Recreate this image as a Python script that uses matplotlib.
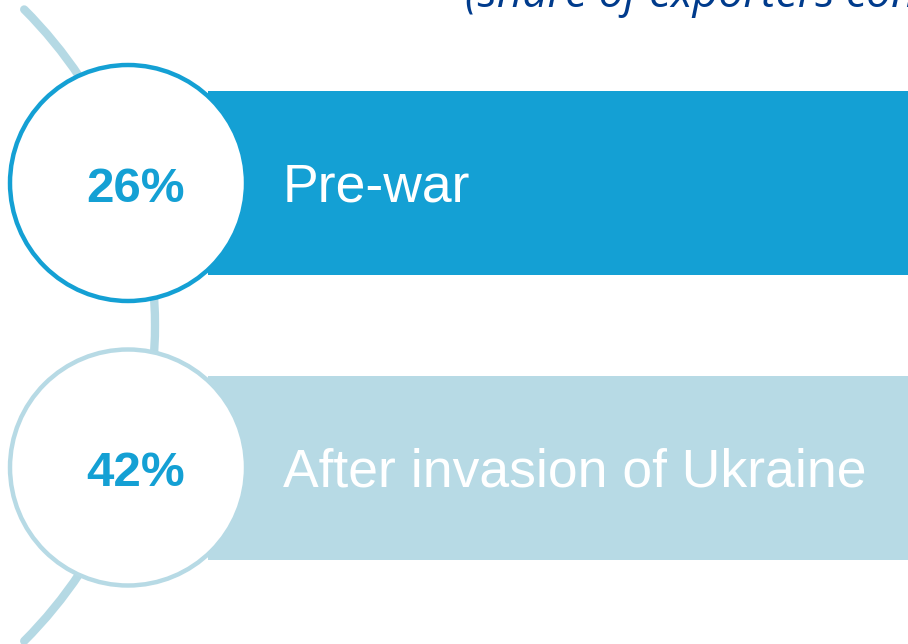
import matplotlib.pyplot as plt
import matplotlib.patches as mpatches
import numpy as np

# data
periods = ["Pre-war", "After invasion of Ukraine"]
shares = [26, 42]
title_text = "(share of exporters concerned)"

# colours
bar_colors = ["#14A0D4", "#B7DAE5"]
ring_colors = ["#14A0D4", "#B7DAE5"]
pct_color = "#14A0D4"
arc_color = "#B5D9E4"
title_color = "#003B8C"

W, H = 908, 644
fig = plt.figure(figsize=(W / 100, H / 100), dpi=100)
ax = fig.add_axes([0, 0, 1, 1])
ax.set_xlim(0, W)
ax.set_ylim(H, 0)
ax.axis("off")

# layout in pixel space
row_y = 183 + np.arange(len(periods)) * 284.5
circle_x = 128
circle_r = 118
bar_left = 208
bar_h = 184

# big background arc joining the circles
arc_r = 446.6
arc_cx = circle_x + 27 - arc_r
arc = mpatches.Arc((arc_cx, row_y.mean()), 2 * arc_r, 2 * arc_r,
                   theta1=-45, theta2=45, color=arc_color, lw=6,
                   capstyle="round", zorder=1)
ax.add_patch(arc)

# bars
ax.barh(row_y, W - bar_left, left=bar_left, height=bar_h,
        color=bar_colors, zorder=2)

for i, (label, val) in enumerate(zip(periods, shares)):
    y = row_y[i]
    ring = mpatches.Circle((circle_x, y), circle_r, facecolor="white",
                           edgecolor=ring_colors[i], lw=3.2, zorder=3)
    ax.add_patch(ring)
    ax.text(circle_x + 8, y + 18.5, f"{val}%", ha="center", va="baseline",
            fontsize=35.5, fontweight="bold", color=pct_color,
            family="Liberation Sans", zorder=4)
    ax.text(283, y + 18.5, label, ha="left", va="baseline",
            fontsize=38.5, color="white", family="Liberation Sans", zorder=4)

# title, cut off at the top of the picture
ax.text(465, 7, title_text, ha="left", va="baseline", fontsize=32,
        style="italic", color=title_color, family="Open Sans", zorder=4)

fig.savefig("out.png", dpi=100)
